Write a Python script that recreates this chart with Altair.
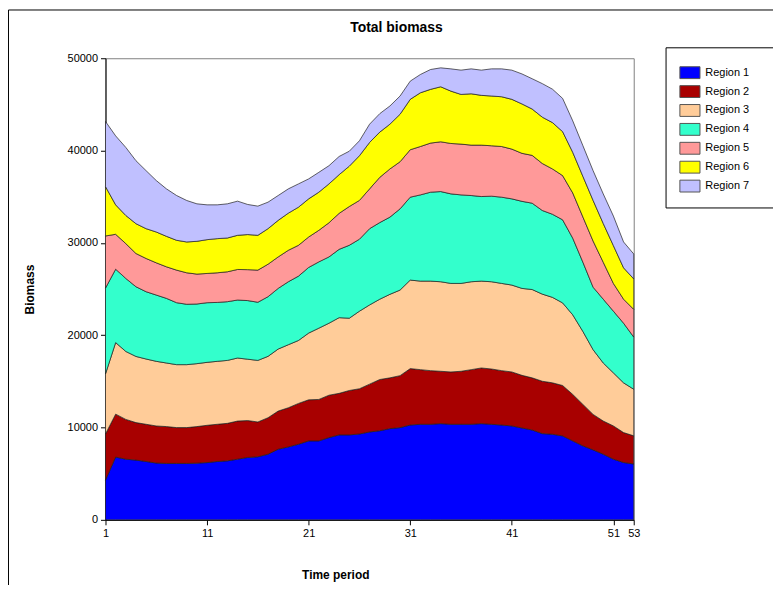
import altair as alt
import pandas as pd

periods = list(range(1, 54))
regions = ["Region 1", "Region 2", "Region 3", "Region 4", "Region 5", "Region 6", "Region 7"]
colors = ["#0000FF", "#A80000", "#FFCC99", "#33FFCC", "#FF9999", "#FFFF00", "#C0C0FF"]

region1 = [4300, 6800, 6570, 6470, 6320, 6150, 6110, 6110, 6110, 6140, 6200, 6320, 6390, 6570, 6760, 6830,
           7110, 7650, 7900, 8190, 8550, 8550, 8910, 9200, 9200, 9300, 9520, 9650, 9880, 9990, 10270, 10350,
           10350, 10420, 10350, 10350, 10350, 10420, 10350, 10270, 10170, 9950, 9730, 9340, 9270, 9090, 8550,
           8010, 7580, 7110, 6570, 6210, 6050]
region2 = [5000, 4650, 4310, 4060, 4030, 4020, 3990, 3880, 3880, 3960, 4040, 4030, 4060, 4130, 3990, 3770,
           3950, 4130, 4240, 4420, 4450, 4490, 4590, 4500, 4810, 4900, 5180, 5550, 5500, 5630, 6110, 5920,
           5810, 5670, 5670, 5740, 5920, 6030, 5990, 5890, 5850, 5700, 5650, 5670, 5570, 5460, 5030, 4490,
           3840, 3590, 3600, 3240, 3050]
region3 = [6500, 7750, 7360, 7170, 7070, 7000, 6890, 6820, 6820, 6820, 6820, 6820, 6820, 6830, 6650, 6670,
           6650, 6720, 6830, 6820, 7230, 7720, 7800, 8200, 7830, 8400, 8580, 8700, 9050, 9270, 9590, 9590,
           9700, 9700, 9590, 9520, 9520, 9410, 9450, 9450, 9410, 9420, 9570, 9440, 9260, 8950, 8620, 7900,
           7010, 6290, 5750, 5390, 5050]
region4 = [9300, 7950, 7910, 7550, 7290, 7180, 7000, 6710, 6540, 6460, 6460, 6380, 6360, 6280, 6350, 6300,
           6460, 6570, 6820, 6970, 7110, 7180, 7180, 7400, 7900, 7800, 8260, 8300, 8360, 8800, 8980, 9340,
           9630, 9770, 9700, 9590, 9340, 9160, 9270, 9340, 9340, 9430, 9350, 9060, 9000, 9000, 8300, 7500,
           6770, 6910, 6680, 6460, 5650]
region5 = [5650, 3780, 3770, 3600, 3600, 3490, 3420, 3530, 3410, 3240, 3170, 3210, 3240, 3310, 3350, 3480,
           3520, 3410, 3410, 3340, 3300, 3420, 3700, 3900, 4200, 4200, 4310, 4900, 5220, 5100, 5140, 5240,
           5320, 5390, 5460, 5500, 5460, 5570, 5460, 5490, 5390, 5200, 5180, 5090, 4910, 4790, 4900, 4900,
           5000, 4000, 3000, 2600, 3000]
region6 = [5350, 3190, 3050, 3230, 3230, 3340, 3300, 3230, 3340, 3550, 3660, 3700, 3660, 3700, 3800, 3770,
           3850, 3960, 4020, 4130, 4130, 4130, 4210, 4190, 4370, 4840, 5030, 4900, 4850, 5150, 5460, 5820,
           5820, 5960, 5670, 5380, 5560, 5390, 5390, 5390, 5390, 5350, 5020, 5020, 5020, 4760, 4400, 4400,
           4400, 4200, 4100, 3400, 3300]
region7 = [7050, 7470, 7370, 6820, 6280, 5570, 5140, 4850, 4490, 4060, 3770, 3660, 3700, 3700, 3260, 3160,
           2870, 2690, 2630, 2520, 2160, 2150, 1970, 1970, 1620, 1620, 1980, 2000, 1970, 1970, 1970, 1980,
           2150, 2050, 2410, 2630, 2700, 2730, 2940, 3020, 3160, 3250, 3280, 3630, 3620, 3600, 3410, 3320,
           3220, 3200, 3200, 2800, 2700]

x_ticks = [1, 11, 21, 31, 41, 51, 53]
y_ticks = [0, 10000, 20000, 30000, 40000, 50000]

series = [region1, region2, region3, region4, region5, region6, region7]
rows = []
for i, (name, vals) in enumerate(zip(regions, series)):
    for p, v in zip(periods, vals):
        rows.append({"Period": p, "Region": name, "Biomass": v, "rank": i})
df = pd.DataFrame(rows)

FONT = "Liberation Sans"

areas = alt.Chart(df).mark_area(stroke="#202020", strokeWidth=0.7, opacity=1).encode(
    x=alt.X("Period:Q",
            scale=alt.Scale(domain=[1, 53], nice=False, zero=False),
            axis=alt.Axis(values=x_ticks, title="Time period", grid=False, format="d",
                          domainColor="black", tickColor="black", tickSize=5,
                          labelFont=FONT, labelFontSize=11, labelColor="black", labelPadding=3,
                          labelFlush=False,
                          titleFont=FONT, titleFontSize=12, titleFontWeight="bold", titleColor="black",
                          titleX=231, titleY=55, titleAlign="center", titleBaseline="middle")),
    y=alt.Y("Biomass:Q", stack="zero",
            scale=alt.Scale(domain=[0, 50000], nice=False),
            axis=alt.Axis(values=y_ticks, title="Biomass", grid=False, format="d",
                          domainColor="black", tickColor="black", tickSize=5,
                          labelFont=FONT, labelFontSize=11, labelColor="black", labelPadding=3,
                          titleFont=FONT, titleFontSize=12, titleFontWeight="bold", titleColor="black",
                          titleAngle=-90, titleX=-76, titleY=232, titleAlign="center",
                          titleBaseline="middle")),
    color=alt.Color("Region:N",
                    scale=alt.Scale(domain=regions, range=colors),
                    legend=alt.Legend(title=None, orient="none", legendX=563, legendY=-10,
                                      symbolType="M-1.05,-0.62H1.05V0.62H-1.05Z",
                                      symbolSize=370, symbolStrokeColor="#555555",
                                      symbolStrokeWidth=1, symbolOpacity=1,
                                      labelFont=FONT, labelFontSize=11, labelColor="black",
                                      labelOffset=5, rowPadding=0, padding=14)),
    order=alt.Order("rank:Q", sort="ascending"),
)

frame_data = alt.Data(values=[{"k": 1}])
legend_box = alt.Chart(frame_data).mark_rect(fill=None, stroke="black", strokeWidth=1).encode(
    x=alt.value(563.5), x2=alt.value(672.5), y=alt.value(-10.5), y2=alt.value(150.5)
)
outer_frame = alt.Chart(frame_data).mark_rect(fill=None, stroke="black", strokeWidth=1).encode(
    x=alt.value(-97.5), x2=alt.value(700), y=alt.value(-48.5), y2=alt.value(600)
)

chart = alt.layer(outer_frame, areas, legend_box).properties(
    width=531, height=464,
    title=alt.TitleParams("Total biomass", font=FONT, fontSize=14, fontWeight="bold",
                          color="black", anchor="middle", frame="group", dx=27, offset=-26),
    autosize=alt.AutoSizeParams(type="none"),
    padding={"left": 98, "top": 49, "right": 140, "bottom": 64},
    background="white",
).configure_view(stroke="#808080", strokeWidth=1)

chart.save("out.html", embed_options={"renderer": "svg", "actions": False})
